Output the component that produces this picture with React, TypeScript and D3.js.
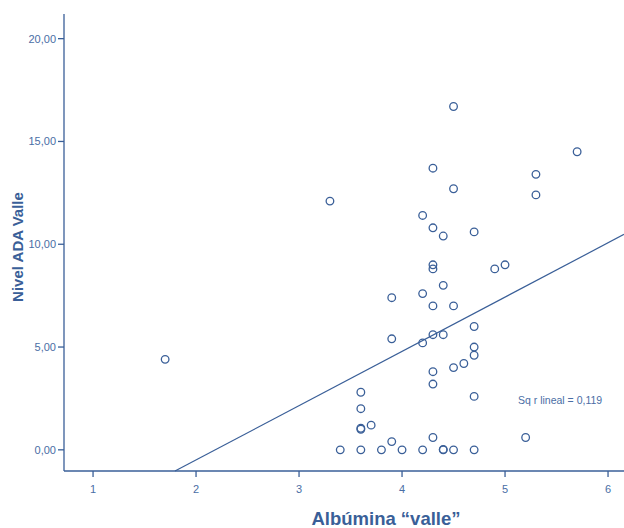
import React from "react";
import * as d3 from "d3";

const albumina: number[] = [
  1.7, 3.3, 4.5, 5.7, 5.3, 5.3, 4.3, 4.5, 4.2, 4.3, 4.4, 4.7, 4.3, 4.3, 4.9, 5.0,
  4.4, 3.9, 4.2, 4.3, 4.5, 4.7, 3.9, 4.2, 4.3, 4.4, 4.7, 4.7, 4.6, 4.5, 4.3, 4.3,
  3.6, 4.7, 3.6, 3.6, 3.6, 3.7, 3.9, 4.3, 5.2,
  3.4, 3.6, 3.8, 4.0, 4.2, 4.4, 4.4, 4.5, 4.7,
];
const adaValle: number[] = [
  4.4, 12.1, 16.7, 14.5, 13.4, 12.4, 13.7, 12.7, 11.4, 10.8, 10.4, 10.6, 9.0, 8.8, 8.8, 9.0,
  8.0, 7.4, 7.6, 7.0, 7.0, 6.0, 5.4, 5.2, 5.6, 5.6, 5.0, 4.6, 4.2, 4.0, 3.8, 3.2,
  2.8, 2.6, 2.0, 1.0, 1.05, 1.2, 0.4, 0.6, 0.6,
  0, 0, 0, 0, 0, 0, 0.02, 0, 0,
];
const xTicks: number[] = [1, 2, 3, 4, 5, 6];
const yTicks: number[] = [0, 5, 10, 15, 20];
const fitIntercept = -5.77;
const fitSlope = 2.64;
const fitLabel = "Sq r lineal = 0,119";
const xTitle = "Albúmina “valle”";
const yTitle = "Nivel ADA Valle";

const W = 624;
const H = 528;
const C = "#3a5f98";
const CT = "#4a6ea5";
const FONT = "'Liberation Sans', Arial, sans-serif";

export default function App() {
  const x = d3.scaleLinear().domain([0.718, 6.155]).range([64, 624]);
  const y = d3.scaleLinear().domain([-1.03, 21.2]).range([471, 14]);
  const loc = d3.formatLocale({ decimal: ",", thousands: ".", grouping: [3], currency: ["", ""] });
  const fmt = loc.format(".2f");
  const x0 = x.domain()[0];
  const x1 = x.domain()[1];
  const yMin = y.domain()[0];
  const xStart = Math.max(x0, (yMin - fitIntercept) / fitSlope);
  const fitPts: [number, number][] = [
    [xStart, fitIntercept + fitSlope * xStart],
    [x1, fitIntercept + fitSlope * x1],
  ];
  const line = d3
    .line<[number, number]>()
    .x((d) => x(d[0]))
    .y((d) => y(d[1]));

  return (
    <svg
      width={W}
      height={H}
      style={{ position: "absolute", left: 0, top: 0, background: "#fff" }}
      fontFamily={FONT}
    >
      <line x1={64} x2={64} y1={y.range()[1]} y2={471} stroke={C} strokeWidth={1.3} />
      <line x1={64} x2={W} y1={471} y2={471} stroke={C} strokeWidth={1.3} />
      {yTicks.map((t) => (
        <g key={"y" + t}>
          <line x1={58} x2={64} y1={y(t)} y2={y(t)} stroke={C} strokeWidth={1.3} />
          <text x={56} y={y(t)} dy="0.35em" textAnchor="end" fontSize={11} fill={CT}>
            {fmt(t)}
          </text>
        </g>
      ))}
      {xTicks.map((t) => (
        <g key={"x" + t}>
          <line x1={x(t)} x2={x(t)} y1={471} y2={477} stroke={C} strokeWidth={1.3} />
          <text x={x(t)} y={493} textAnchor="middle" fontSize={11} fill={CT}>
            {t}
          </text>
        </g>
      ))}
      <path d={line(fitPts) || ""} fill="none" stroke={C} strokeWidth={1.2} />
      {albumina.map((a, i) => (
        <circle
          key={i}
          cx={x(a)}
          cy={y(adaValle[i])}
          r={3.8}
          fill="none"
          stroke={C}
          strokeWidth={1.3}
        />
      ))}
      <text x={518} y={404} fontSize={10.5} fill={CT}>
        {fitLabel}
      </text>
      <text x={386} y={525} textAnchor="middle" fontSize={18.5} fontWeight="bold" fill={C}>
        {xTitle}
      </text>
      <text
        transform={`translate(23, 247) rotate(-90)`}
        textAnchor="middle"
        fontSize={15}
        fontWeight="bold"
        fill={C}
      >
        {yTitle}
      </text>
    </svg>
  );
}
